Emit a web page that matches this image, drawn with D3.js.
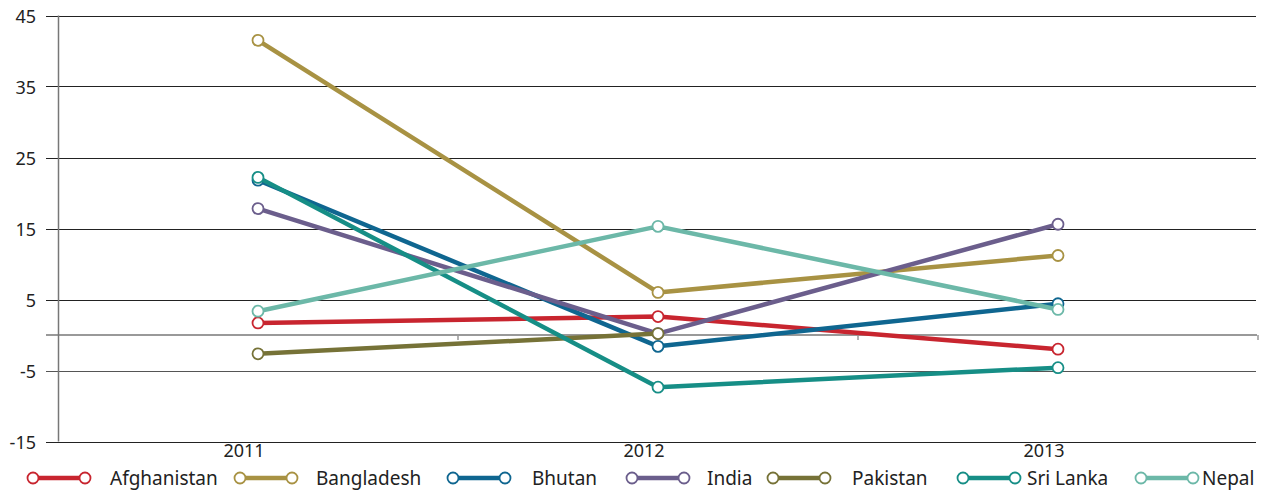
<!DOCTYPE html>
<html>
<head>
<meta charset="utf-8">
<script src="https://cdn.jsdelivr.net/npm/d3@7"></script>
<style>
  html, body { margin: 0; padding: 0; background: #fff; }
  svg { display: block; font-family: "Noto Sans", sans-serif; }
</style>
</head>
<body>
<svg id="chart" width="1263" height="491"></svg>
<script>
// data
const years = ["2011", "2012", "2013"];
const countries = ["Afghanistan", "Bangladesh", "Bhutan", "India", "Pakistan", "Sri Lanka", "Nepal"];
const afghanistan = [1.7, 2.6, -2.0];
const bangladesh = [41.5, 6.0, 11.2];
const bhutan = [21.8, -1.6, 4.4];
const india = [17.8, 0.2, 15.6];
const pakistan = [-2.65, 0.2, null];
const sriLanka = [22.2, -7.35, -4.6];
const nepal = [3.35, 15.3, 3.6];
const yTicks = [-15, -5, 5, 15, 25, 35, 45];

const seriesValues = [afghanistan, bangladesh, bhutan, india, pakistan, sriLanka, nepal];
const colors = ["#c8252f", "#a89243", "#0f6690", "#6b5e8c", "#767237", "#168e86", "#6cb8a8"];

const svg = d3.select("#chart");

const x = d3.scaleBand().domain(years).range([58, 1258]);
const y = d3.scaleLinear().domain([-15, 45]).range([441.5, 15.5]);

// gridlines
svg.append("g")
    .selectAll("line")
    .data(yTicks)
    .enter()
    .append("line")
    .attr("x1", 46)
    .attr("x2", 1256)
    .attr("y1", d => Math.round(y(d)) + 0.5)
    .attr("y2", d => Math.round(y(d)) + 0.5)
    .attr("stroke", d => d === -5 ? "#555" : "#222")
    .attr("stroke-width", 1.2);

// y labels
svg.append("g")
    .selectAll("text")
    .data(yTicks)
    .enter()
    .append("text")
    .attr("x", 36)
    .attr("y", d => y(d))
    .attr("dy", "0.42em")
    .attr("text-anchor", "end")
    .attr("fill", "#222")
    .style("font-size", "18px")
    .text(d => d);

// zero axis with ticks
const y0 = y(0);
svg.append("line")
    .attr("x1", 46).attr("x2", 1257)
    .attr("y1", y0).attr("y2", y0)
    .attr("stroke", "#999").attr("stroke-width", 2);
svg.append("g")
    .selectAll("line")
    .data(years.map(d => x(d) + x.bandwidth()))
    .enter()
    .append("line")
    .attr("x1", d => d).attr("x2", d => d)
    .attr("y1", y0).attr("y2", y0 + 5)
    .attr("stroke", "#999").attr("stroke-width", 1.5);

// vertical axis
svg.append("line")
    .attr("x1", 58.5).attr("x2", 58.5)
    .attr("y1", y(45)).attr("y2", y(-15))
    .attr("stroke", "#777").attr("stroke-width", 1.5);

// x labels
svg.append("g")
    .selectAll("text")
    .data(years)
    .enter()
    .append("text")
    .attr("x", d => x(d) + x.bandwidth() / 2 - 14)
    .attr("y", 457)
    .attr("text-anchor", "middle")
    .attr("fill", "#222")
    .style("font-size", "18px")
    .text(d => d);

// series
const cx = d => x(d) + x.bandwidth() / 2;
const line = d3.line()
    .defined(d => d.v !== null)
    .x(d => cx(d.year))
    .y(d => y(d.v));

const series = countries.map((name, i) => ({
    name: name,
    color: colors[i],
    points: years.map((yr, j) => ({ year: yr, v: seriesValues[i][j] }))
}));

const sg = svg.append("g")
    .selectAll("g")
    .data(series)
    .enter()
    .append("g");

sg.append("path")
    .attr("d", d => line(d.points))
    .attr("fill", "none")
    .attr("stroke", d => d.color)
    .attr("stroke-width", 4.5)
    .attr("stroke-linejoin", "round");

sg.selectAll("circle")
    .data(d => d.points.filter(p => p.v !== null).map(p => ({ ...p, color: d.color })))
    .enter()
    .append("circle")
    .attr("cx", d => cx(d.year))
    .attr("cy", d => y(d.v))
    .attr("r", 5.5)
    .attr("fill", "#fff")
    .attr("stroke", d => d.color)
    .attr("stroke-width", 1.8);

// legend
const legendX = [33, 240, 453, 632, 773, 963, 1141];
const legendTextX = [110, 316, 532, 707, 852, 1027, 1202];
const ly = 478;
const lg = svg.append("g")
    .selectAll("g")
    .data(series)
    .enter()
    .append("g");

lg.append("line")
    .attr("x1", (d, i) => legendX[i])
    .attr("x2", (d, i) => legendX[i] + 52)
    .attr("y1", ly).attr("y2", ly)
    .attr("stroke", d => d.color)
    .attr("stroke-width", 4.5);

lg.selectAll("circle")
    .data((d, i) => [legendX[i], legendX[i] + 52].map(px => ({ px: px, color: d.color })))
    .enter()
    .append("circle")
    .attr("cx", d => d.px)
    .attr("cy", ly)
    .attr("r", 5.5)
    .attr("fill", "#fff")
    .attr("stroke", d => d.color)
    .attr("stroke-width", 1.8);

lg.append("text")
    .attr("x", (d, i) => legendTextX[i])
    .attr("y", ly + 7)
    .attr("fill", "#222")
    .style("font-size", "19px")
    .text(d => d.name);
</script>
</body>
</html>
